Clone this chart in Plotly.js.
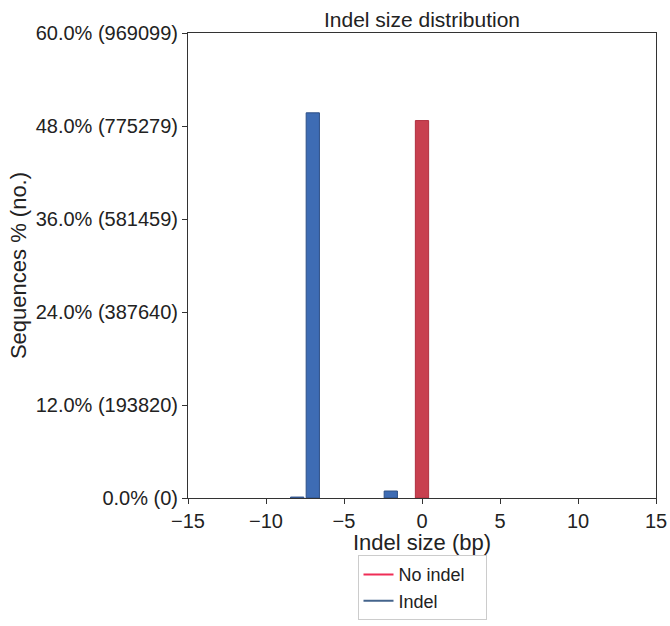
<!DOCTYPE html>
<html>
<head>
<meta charset="utf-8">
<script src="https://cdn.plot.ly/plotly-3.0.1.min.js"></script>
<style>html,body{margin:0;padding:0;background:#fff;}#chart{width:670px;height:626px;}</style>
</head>
<body>
<div id="chart"></div>
<script>
// Indel sizes (bp) and percentage of sequences
const noIndelSizes = [0];
const noIndelPct = [48.7];
const indelSizes = [-8, -7, -2];
const indelPct = [0.12, 49.7, 0.9];

const yTickVals = [0, 12, 24, 36, 48, 60];
const yTickText = ["0.0% (0)", "12.0% (193820)", "24.0% (387640)", "36.0% (581459)", "48.0% (775279)", "60.0% (969099)"];
const xTickVals = [-15, -10, -5, 0, 5, 10, 15];

const FONT = "Liberation Sans, Arial, sans-serif";

const traces = [
  {type: "bar", x: indelSizes, y: indelPct, width: 0.85, showlegend: false,
   marker: {color: "#3e6cb4", line: {color: "#2d4f86", width: 1}}, hoverinfo: "skip"},
  {type: "bar", x: noIndelSizes, y: noIndelPct, width: 0.85, showlegend: false,
   marker: {color: "#c8404f", line: {color: "#b0303f", width: 1}}, hoverinfo: "skip"},
  {type: "scatter", mode: "lines", x: [null], y: [null], name: "No indel   ",
   line: {color: "#ef2d56", width: 2}},
  {type: "scatter", mode: "lines", x: [null], y: [null], name: "Indel",
   line: {color: "#44648c", width: 2}}
];

const layout = {
  width: 670, height: 626,
  paper_bgcolor: "#fff", plot_bgcolor: "#fff",
  margin: {l: 188, r: 14, t: 33, b: 128},
  font: {family: FONT, color: "#222", size: 20},
  title: {text: "Indel size distribution", font: {size: 21, color: "#222"}, x: 0.5, xref: "paper", y: 0.968, yanchor: "middle"},
  barmode: "overlay",
  bargap: 0,
  xaxis: {
    range: [-15, 15], tickvals: xTickVals, ticks: "outside", ticklen: 5, tickcolor: "#333",
    showline: true, linecolor: "#333", linewidth: 1, mirror: true, showgrid: false, zeroline: false,
    tickfont: {size: 20}, title: {text: "Indel size (bp)", font: {size: 22}, standoff: 2}
  },
  yaxis: {
    range: [0, 60], tickvals: yTickVals, ticktext: yTickText, ticks: "outside", ticklen: 5, tickcolor: "#333",
    showline: true, linecolor: "#333", linewidth: 1, mirror: true, showgrid: false, zeroline: false,
    tickfont: {size: 20}, title: {text: "Sequences % (no.)", font: {size: 22}, standoff: 2}
  },
  legend: {
    x: 0.5, xanchor: "center", yref: "container", y: 0.113, yanchor: "top",
    bordercolor: "#cccccc", borderwidth: 1, bgcolor: "#fff",
    font: {size: 18}, tracegroupgap: 0
  }
};

Plotly.newPlot("chart", traces, layout, {displayModeBar: false, staticPlot: true});
</script>
</body>
</html>
